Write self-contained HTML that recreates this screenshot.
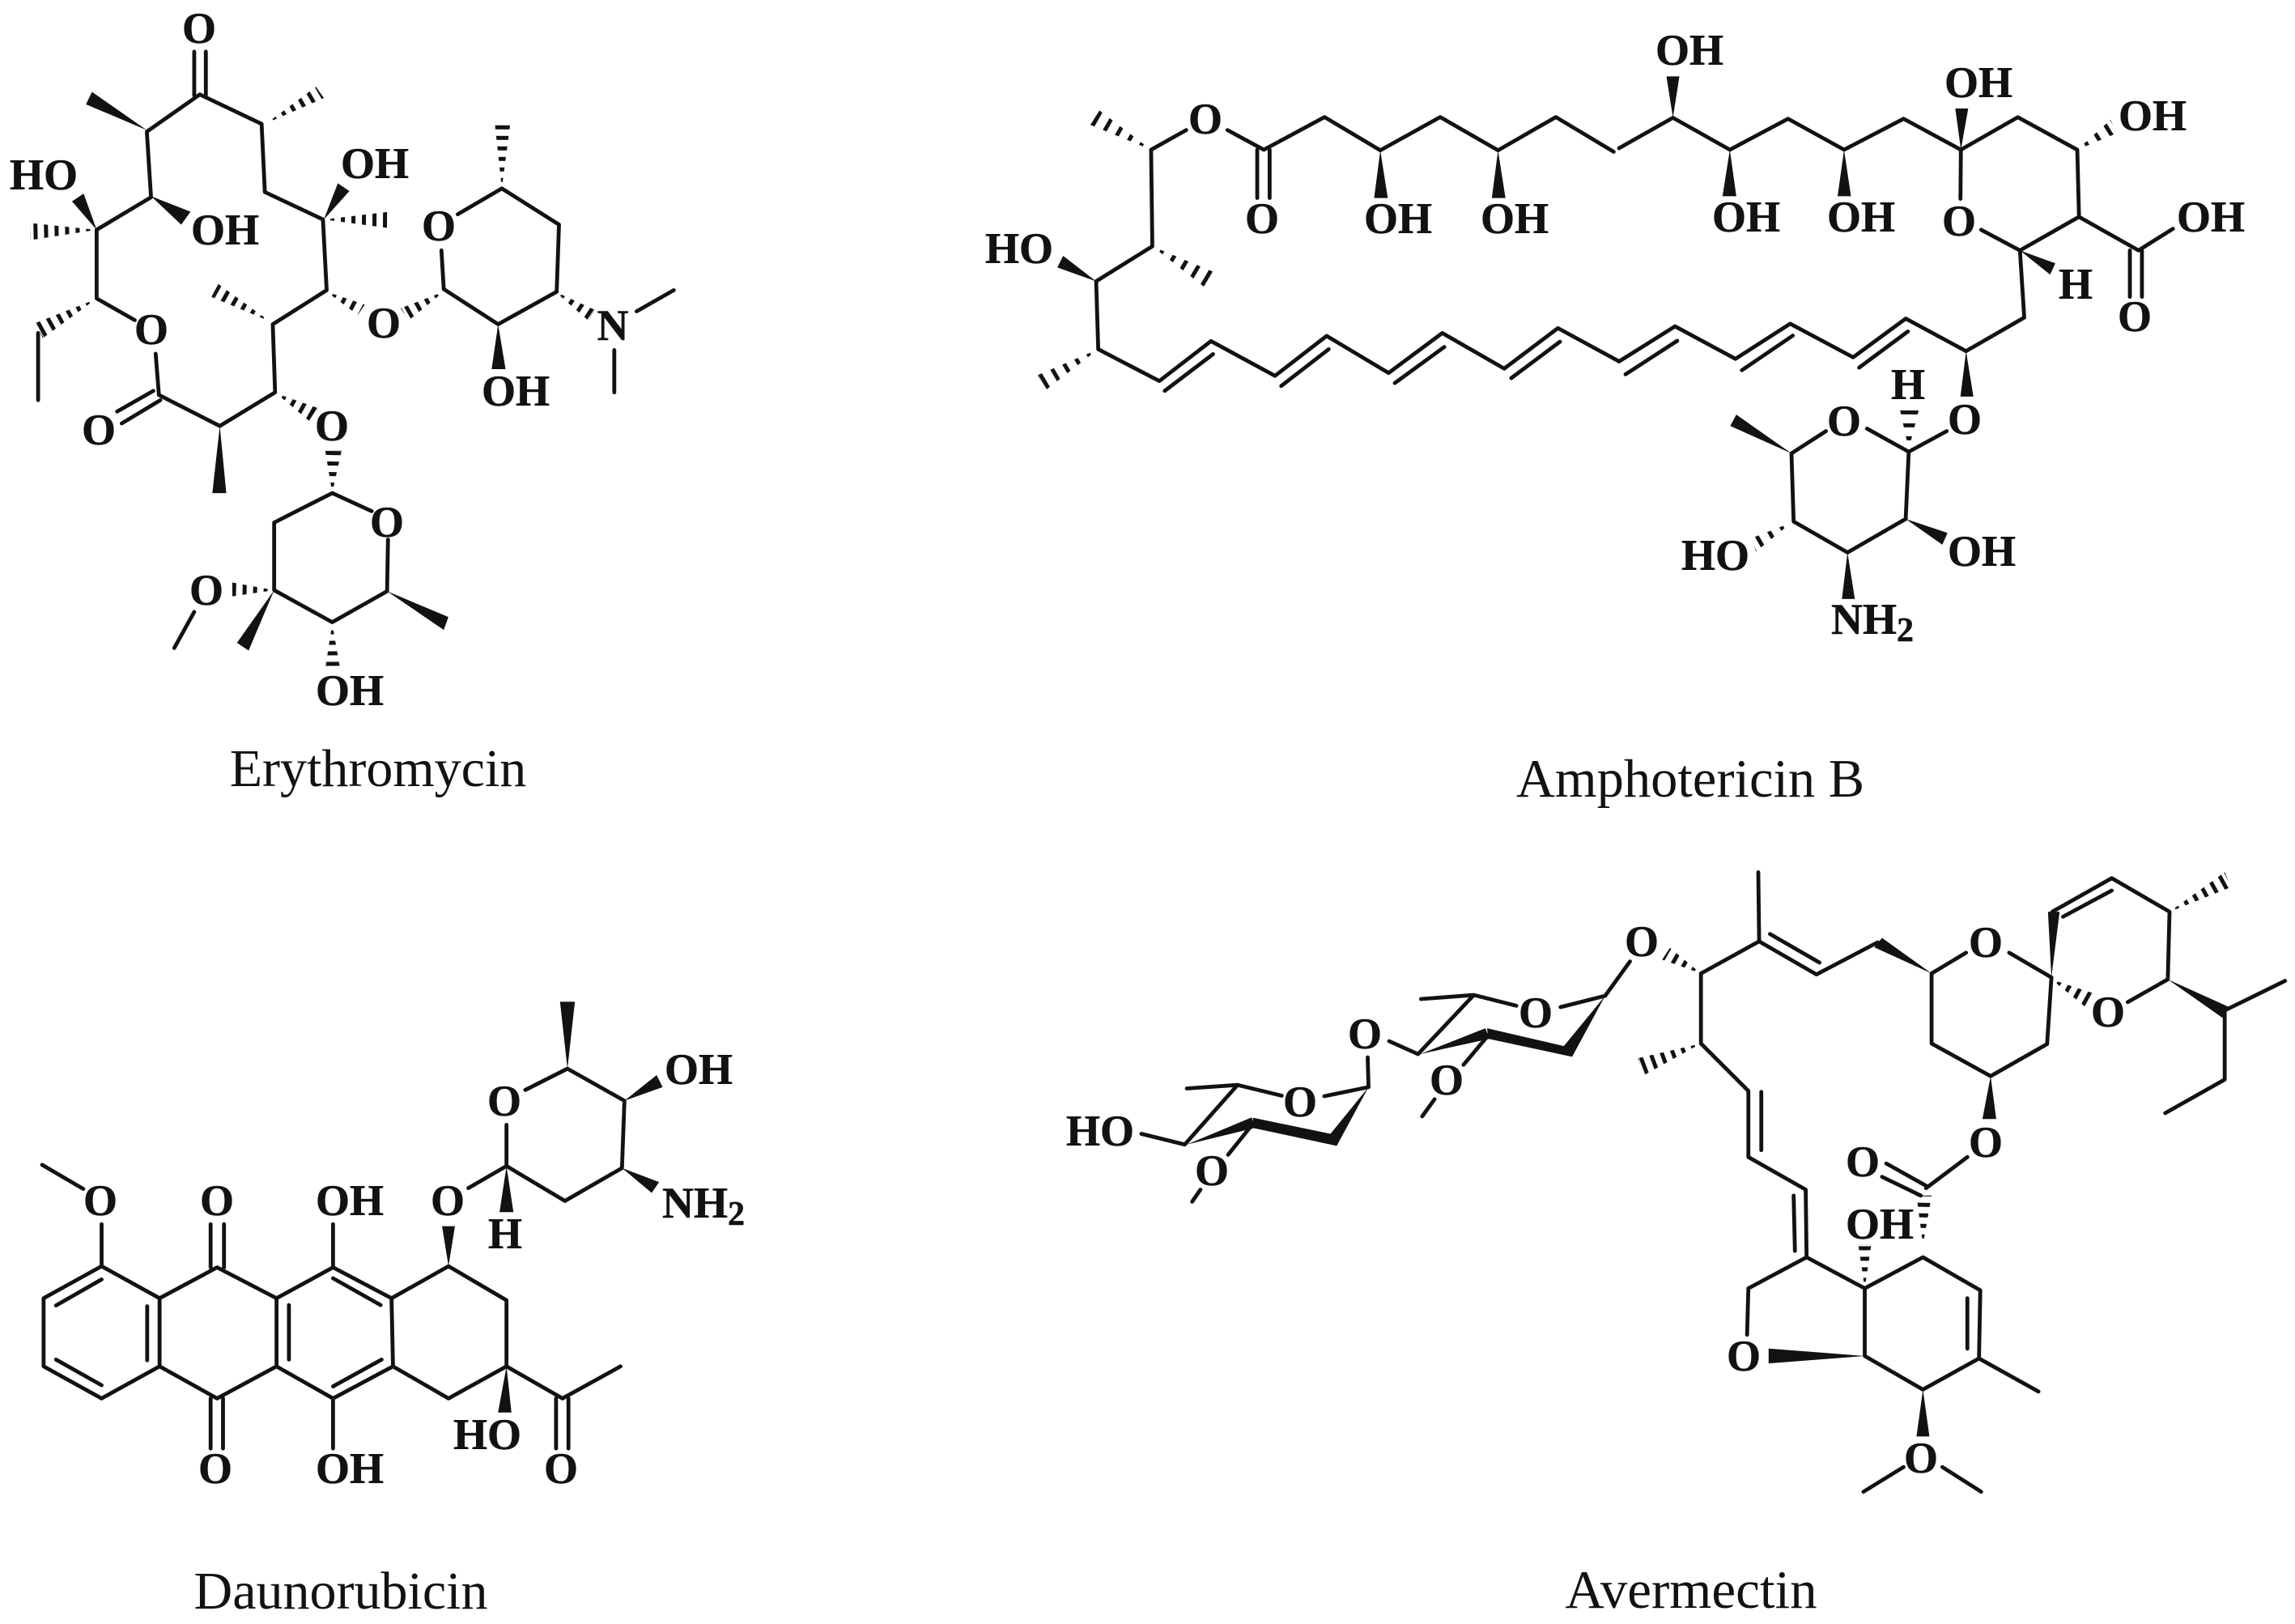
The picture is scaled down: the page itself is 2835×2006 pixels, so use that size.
<!DOCTYPE html>
<html><head><meta charset="utf-8"><style>
html,body{margin:0;padding:0;background:#fff}
svg{display:block}
.l{fill:none;stroke:#141210;stroke-width:4.8;vector-effect:non-scaling-stroke;stroke-linejoin:round;stroke-linecap:round}
.f{fill:#141210;stroke:none}
.g{fill:none;stroke:#fff;stroke-width:26;stroke-dasharray:8 5;vector-effect:non-scaling-stroke}
.g2{stroke-dasharray:11 5}
text{font-family:"Liberation Serif",serif;fill:#141210}
.a,.b{stroke:#141210;stroke-width:.5px}
.a{font-weight:bold;font-size:54px;text-anchor:middle}
.b{font-weight:bold;font-size:54px}
.c{font-size:66px;text-anchor:middle}
</style></head><body>
<svg xmlns="http://www.w3.org/2000/svg" width="2835" height="2006" viewBox="0 0 2835 2006">
<rect width="2835" height="2006" fill="#fff"/>

<!-- Erythromycin -->
<g transform="translate(0,0) scale(.574,.6378)">
<path class="f" d="M575 238L680 168L697 190ZM1080 365L1065 240L1098 240ZM697 425L838 410L838 442ZM208 445L65 432L65 465ZM580 622L470 550L455 575ZM703 565L785 590L770 610ZM955 565L862 597L880 620ZM205 580L78 625L92 655ZM1195 565L1280 600L1265 620ZM595 762L683 790L665 815ZM715 955L700 873L735 873ZM590 1143L500 1128L500 1155ZM715 1208L700 1295L732 1295Z"/>
<path class="g" d="M575 238L688 179M1080 365L1081 240M697 425L838 426M208 445L65 448M580 622L462 562M703 565L777 600M955 565L871 608M205 580L85 640M1195 565L1272 610M595 762L674 802M715 955L717 873M590 1143L500 1141M715 1208L716 1295"/>
<path class="l" d="M208 445L208 578L290 620M335 685L342 765L473 825L592 760L587 628L703 562L695 425L570 372L563 240L430 183L316 255L325 382L208 445M418 100L418 185M443 100L443 185M82 645L82 775M252 797L330 757M262 820L345 775M985 415L1080 365L1203 435L1198 565L1072 628L955 560L950 485M1370 603L1450 562M1322 678L1322 760M715 955L800 990M835 1045L833 1145L715 1205L590 1143L590 1012L715 955M418 1185L375 1255"/>
<path class="f" d="M316 252L185 202L198 178ZM208 445L155 390L180 375ZM325 380L390 435L410 410ZM697 425L727 355L752 370ZM1072 628L1058 715L1088 715ZM473 825L457 955L487 955ZM833 1145L955 1220L965 1195ZM590 1143L510 1245L535 1260Z"/>
</g>
<text class="a" x="246" y="53">O</text>
<text class="a" x="54" y="234">HO</text>
<text class="a" x="278" y="302">OH</text>
<text class="a" x="463" y="220">OH</text>
<text class="a" x="542" y="297">O</text>
<text class="a" x="187" y="425">O</text>
<text class="a" x="474" y="417">O</text>
<text class="a" x="757" y="420">N</text>
<text class="a" x="637" y="501">OH</text>
<text class="a" x="122" y="549">O</text>
<text class="a" x="410" y="544">O</text>
<text class="a" x="478" y="663">O</text>
<text class="a" x="255" y="747">O</text>
<text class="a" x="432" y="871">OH</text>
<text class="c" x="467" y="971">Erythromycin</text>

<!-- Amphotericin B, left part -->
<g transform="translate(1200,0) scale(.5102,.3571)">
<path class="f" d="M435 518L310 382L288 432ZM438 852L585 940L563 992ZM307 1208L160 1298L182 1347Z"/>
<path class="g g2" d="M435 518L299 407M438 852L574 966M307 1208L171 1322"/>
<path class="l" d="M520 450L435 518L438 852L302 973L307 1208L455 1318L580 1180L735 1300L860 1162L1010 1290L1140 1152L1290 1275L1420 1135L1568 1250M620 450L708 518L855 405L990 520L1135 405L1275 520L1415 405L1555 525M692 518L692 685M722 518L722 685M468 1352L585 1225M750 1335L865 1208M1025 1325L1145 1200M1307 1308L1425 1182"/>
<path class="f" d="M990 520L975 685L1008 685ZM1275 520L1260 685L1293 685ZM302 973L222 885L208 925Z"/>
</g>
<!-- Amphotericin B, right part -->
<g transform="translate(2000,0) scale(.5325,.6378)">
<path class="f" d="M1063 290L1140 232L1155 258ZM672 870L652 795L695 795ZM400 1012L305 1043L318 1068Z"/>
<path class="g g2" d="M1063 290L1148 245M672 870L673 795M400 1012L311 1055"/>
<path class="l" d="M0 287L125 228L257 290L392 230L522 290L660 230L793 290L925 227L1063 290L1067 420L930 485L840 445M793 290L792 385M1067 420L1205 485L1285 443M1185 485L1185 575M1213 485L1213 575M0 700L130 632L270 695L397 627L543 692L665 617L805 680L940 615L930 485M15 725L135 660M285 717L403 650M557 712L670 642M575 830L672 875L665 1005L530 1070L405 1010L400 878L480 835M672 875L760 835"/>
<path class="f" d="M125 228L110 148L140 148ZM257 290L240 380L272 380ZM522 290L507 380L538 380ZM793 290L780 210L810 210ZM930 485L1012 510L1000 532ZM805 680L792 768L822 768ZM400 878L258 825L272 803ZM665 1005L750 1055L762 1032ZM530 1070L517 1160L547 1160Z"/>
</g>
<text class="a" x="1489" y="165">O</text>
<text class="a" x="1559" y="288">O</text>
<text class="a" x="1727" y="288">OH</text>
<text class="a" x="1871" y="288">OH</text>
<text class="a" x="1259" y="325">HO</text>
<text class="a" x="2087" y="80">OH</text>
<text class="a" x="2444" y="120">OH</text>
<text class="a" x="2659" y="161">OH</text>
<text class="a" x="2157" y="286">OH</text>
<text class="a" x="2299" y="286">OH</text>
<text class="a" x="2420" y="291">O</text>
<text class="a" x="2731" y="286">OH</text>
<text class="a" x="2564" y="369">H</text>
<text class="a" x="2637" y="409">O</text>
<text class="a" x="2357" y="493">H</text>
<text class="a" x="2427" y="536">O</text>
<text class="a" x="2278" y="538">O</text>
<text class="a" x="2119" y="704">HO</text>
<text class="a" x="2448" y="699">OH</text>
<text class="b" x="2262" y="783">NH<tspan font-size="42" dy="9">2</tspan></text>
<text class="c" x="2088" y="984" font-size="66.5" style="font-size:66.5px">Amphotericin B</text>

<!-- Daunorubicin -->
<g transform="translate(0,1230) scale(.6122,.4949)">
<path class="l" d="M85 422L168 482M205 570L205 675L88 755L88 925L205 1005L322 925L322 755L205 675M205 708L113 773M113 908L205 972M297 775L297 910M322 755L438 678L558 755L558 925L438 1005L322 925M583 772L583 908M558 755L672 678L790 755L793 925L672 1005L558 925M672 705L768 772M672 975L770 908M425 570L425 678M452 570L452 678M425 1005L425 1130M450 1005L450 1130M672 570L672 678M672 1005L672 1130M790 755L905 675L1022 760L1022 925L905 1005L793 925M1022 925L1135 1005L1252 925M1122 1005L1122 1130M1147 1005L1147 1130M945 480L1022 425L1140 512L1255 430L1260 262L1145 182L1060 235M1022 322L1022 425"/>
<path class="f" d="M1022 925L1005 1040L1032 1040ZM905 675L892 575L918 575ZM1022 425L1008 540L1036 540ZM1255 430L1315 492L1330 465ZM1260 262L1325 198L1337 228ZM1145 182L1130 15L1160 15Z"/>
</g>
<text class="a" x="623" y="1378">O</text>
<text class="a" x="863" y="1339">OH</text>
<text class="a" x="124" y="1501">O</text>
<text class="a" x="268" y="1501">O</text>
<text class="a" x="432" y="1501">OH</text>
<text class="a" x="553" y="1501">O</text>
<text class="a" x="624" y="1542">H</text>
<text class="b" x="818" y="1504">NH<tspan font-size="42" dy="9">2</tspan></text>
<text class="a" x="602" y="1790">HO</text>
<text class="a" x="266" y="1832">O</text>
<text class="a" x="432" y="1832">OH</text>
<text class="a" x="693" y="1832">O</text>
<text class="c" x="421" y="1987">Daunorubicin</text>

<!-- Avermectin sugars -->
<g transform="translate(1290,1050) scale(.5102,.3316)">
<path class="l" d="M235 1057L340 1097L468 875L345 888M468 875L575 915M678 917L785 883L783 772M505 1020L445 1135M378 1265L358 1310M835 712L905 760L1040 540L912 555M1040 540L1143 580M1250 585L1358 543L1418 415M1075 690L1015 800M945 928L915 992"/>
<path class="f" d="M345 1097L502 996L510 1035ZM505 997L693 1057L708 1102L505 1035ZM708 1102L693 1057L785 883ZM910 760L1068 664L1078 703ZM1072 664L1258 730L1278 770L1075 703ZM1278 770L1258 730L1358 543Z"/>
</g>
<text class="a" x="1359" y="1415">HO</text>
<text class="a" x="1606" y="1379">O</text>
<text class="a" x="1497" y="1464">O</text>
<text class="a" x="1686" y="1295">O</text>
<text class="a" x="1897" y="1269">O</text>
<text class="a" x="1787" y="1352">O</text>
<text class="a" x="2028" y="1181">O</text>

<!-- Avermectin macrocycle -->
<g transform="translate(2000,1050) scale(.5325,.6097)">
<path class="f" d="M190 250L118 198L100 222ZM1003 262L1100 290L1082 318ZM1277 125L1405 45L1420 75ZM705 800L690 700L725 700ZM570 888L555 800L585 800ZM190 392L43 422L60 455Z"/>
<path class="g" d="M190 250L109 210M1003 262L1091 304M1277 125L1412 60M705 800L707 700M570 888L570 800M190 392L51 438"/>
<path class="l" d="M190 250L325 185L323 45M325 185L458 252L600 187M350 170L465 228M725 250L805 208M905 208L1003 258M725 250L725 392L862 458L993 393L1003 258M1180 308L1273 262L1277 125L1143 57L1005 125M1030 135L1143 82M1405 325L1545 265M1405 325L1405 465L1267 533M808 622L712 685M620 635L712 680M610 662L700 700M705 825L838 892L835 1030L705 1093L570 1025L570 888L705 825M808 908L808 1010M835 1030L973 1097M660 1250L567 1300M750 1250L840 1300M570 888L435 825L300 888L297 982M190 250L190 392L300 488L300 622L433 688L435 825M330 490L330 608M405 700L408 812"/>
<path class="f" d="M725 250L610 178L592 197ZM1003 258L995 125L1022 125ZM1273 262L1400 340L1415 318ZM862 458L843 545L875 545ZM705 1093L690 1188L720 1188ZM570 1025L347 1010L347 1040Z"/>
</g>
<text class="a" x="2453" y="1182">O</text>
<text class="a" x="2604" y="1268">O</text>
<text class="a" x="2453" y="1429">O</text>
<text class="a" x="2301" y="1453">O</text>
<text class="a" x="2322" y="1530">OH</text>
<text class="a" x="2154" y="1693">O</text>
<text class="a" x="2373" y="1819">O</text>
<text class="c" x="2089" y="1986" style="font-size:67px">Avermectin</text>
</svg>
</body></html>
